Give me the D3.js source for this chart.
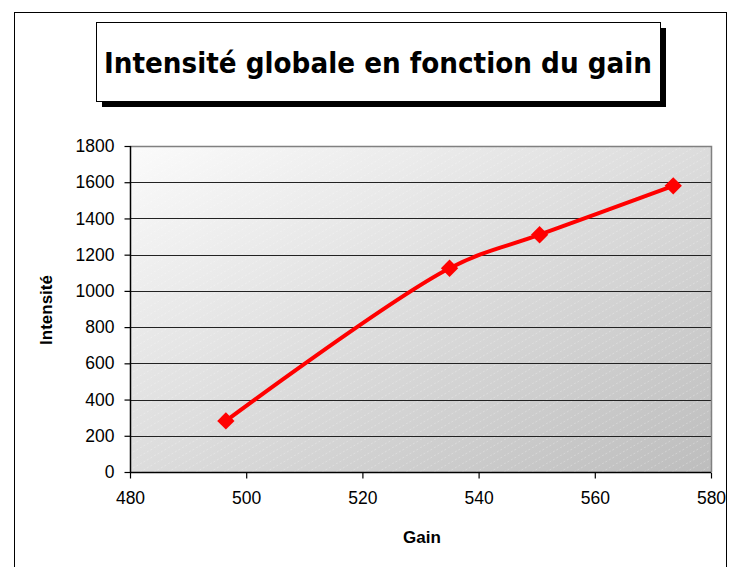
<!DOCTYPE html>
<html>
<head>
<meta charset="utf-8">
<script src="https://cdn.jsdelivr.net/npm/d3@7"></script>
<style>
  html, body { margin: 0; padding: 0; background: #fff; }
  svg { display: block; }
</style>
</head>
<body>
<svg id="chart" width="730" height="567"></svg>
<script>
// Measurements: gain vs. global intensity
const gains = [496.5, 535, 550.5, 573.5];
const intensities = [282, 1125, 1310, 1580];
const xTicks = [480, 500, 520, 540, 560, 580];
const yTicks = [0, 200, 400, 600, 800, 1000, 1200, 1400, 1600, 1800];
const titleText = "Intensité globale en fonction du gain";
const xLabel = "Gain";
const yLabel = "Intensité";

const svg = d3.select("#chart");
const plot = { left: 130, right: 711, top: 146, bottom: 472 };

const x = d3.scaleLinear().domain([480, 580]).range([plot.left, plot.right]);
const y = d3.scaleLinear().domain([0, 1800]).range([plot.bottom, plot.top]);

const defs = svg.append("defs");
const grad = defs.append("linearGradient")
  .attr("id", "bg").attr("x1", "0").attr("y1", "0").attr("x2", "1").attr("y2", "1");
grad.append("stop").attr("offset", "0%").attr("stop-color", "#fbfbfb");
grad.append("stop").attr("offset", "100%").attr("stop-color", "#bdbdbd");

const hatch = defs.append("pattern")
  .attr("id", "hatch").attr("patternUnits", "userSpaceOnUse")
  .attr("width", 14).attr("height", 8);
hatch.append("line")
  .attr("x1", 0).attr("y1", 8).attr("x2", 14).attr("y2", 0)
  .attr("stroke", "#ffffff").attr("stroke-opacity", 0.35)
  .attr("stroke-width", 0.8).attr("stroke-dasharray", "2,2");

// Outer chart frame
svg.append("rect")
  .attr("x", 14.5).attr("y", 12.5).attr("width", 712).attr("height", 600)
  .attr("fill", "#fff").attr("stroke", "#000").attr("stroke-width", 1);

// Title box with drop shadow
svg.append("rect")
  .attr("x", 102).attr("y", 28).attr("width", 564).attr("height", 79)
  .attr("fill", "#000");
svg.append("rect")
  .attr("x", 96.5).attr("y", 22.5).attr("width", 564).attr("height", 79)
  .attr("fill", "#fff").attr("stroke", "#000").attr("stroke-width", 1);
svg.append("text")
  .attr("x", 378).attr("y", 73)
  .attr("text-anchor", "middle")
  .attr("font-family", "'Comic Sans MS', 'DejaVu Sans', sans-serif")
  .attr("font-weight", "bold").attr("font-size", 28)
  .attr("textLength", 548).attr("lengthAdjust", "spacingAndGlyphs")
  .text(titleText);

// Plot background
svg.append("rect")
  .attr("x", plot.left).attr("y", plot.top)
  .attr("width", plot.right - plot.left).attr("height", plot.bottom - plot.top)
  .attr("fill", "url(#bg)");
svg.append("rect")
  .attr("x", plot.left).attr("y", plot.top)
  .attr("width", plot.right - plot.left).attr("height", plot.bottom - plot.top)
  .attr("fill", "url(#hatch)");

// Horizontal gridlines
svg.append("g").selectAll("line")
  .data(yTicks.filter(d => d > 0 && d < 1800))
  .join("line")
  .attr("x1", plot.left).attr("x2", plot.right)
  .attr("y1", d => Math.round(y(d)) + 0.5).attr("y2", d => Math.round(y(d)) + 0.5)
  .attr("stroke", "#222").attr("stroke-width", 1);

// Plot border (top and right)
svg.append("path")
  .attr("d", `M${plot.left},${plot.top + 0.5}H${plot.right + 0.5}V${plot.bottom}`)
  .attr("fill", "none").attr("stroke", "#808080").attr("stroke-width", 1.5);

// Axes
const fmt = d3.format("d");
const xAxis = d3.axisBottom(x).tickValues(xTicks).tickFormat(fmt).tickSize(6).tickPadding(13);
const yAxis = d3.axisLeft(y).tickValues(yTicks).tickFormat(fmt).tickSize(6).tickPadding(10);

const gx = svg.append("g").attr("transform", `translate(0,${plot.bottom + 0.5})`).call(xAxis);
const gy = svg.append("g").attr("transform", `translate(${plot.left + 0.5},0)`).call(yAxis);
[gx, gy].forEach(g => {
  g.select(".domain").attr("stroke", "#000").attr("stroke-width", 1.5);
  g.selectAll(".tick line").attr("stroke", "#000").attr("stroke-width", 1.2);
  g.selectAll(".tick text")
    .attr("font-family", "'Liberation Sans', Arial, sans-serif")
    .attr("font-size", 17.5).attr("fill", "#000");
});
gx.select(".domain").attr("d", `M${plot.left},0H${plot.right}`);
gy.select(".domain").attr("d", `M0,${plot.top}V${plot.bottom}`);

// Axis titles
svg.append("text")
  .attr("x", 422).attr("y", 543)
  .attr("text-anchor", "middle")
  .attr("font-family", "'Liberation Sans', Arial, sans-serif")
  .attr("font-weight", "bold").attr("font-size", 17)
  .text(xLabel);
svg.append("text")
  .attr("transform", "translate(52,310) rotate(-90)")
  .attr("text-anchor", "middle")
  .attr("font-family", "'Liberation Sans', Arial, sans-serif")
  .attr("font-weight", "bold").attr("font-size", 17)
  .text(yLabel);

// Smoothed data line
const pts = gains.map((g, i) => [g, intensities[i]]);
const line = d3.line()
  .x(d => x(d[0])).y(d => y(d[1]))
  .curve(d3.curveCatmullRom.alpha(0.5));
svg.append("path")
  .datum(pts)
  .attr("d", line)
  .attr("fill", "none").attr("stroke", "#ff0000")
  .attr("stroke-width", 4).attr("stroke-linejoin", "round");

// Diamond markers (squares turned 45 degrees)
const diamond = d3.symbol().type(d3.symbolSquare).size(150);
svg.append("g").selectAll("path")
  .data(pts)
  .join("path")
  .attr("transform", d => `translate(${x(d[0])},${y(d[1])}) rotate(45)`)
  .attr("d", diamond)
  .attr("fill", "#ff0000");
</script>
</body>
</html>
